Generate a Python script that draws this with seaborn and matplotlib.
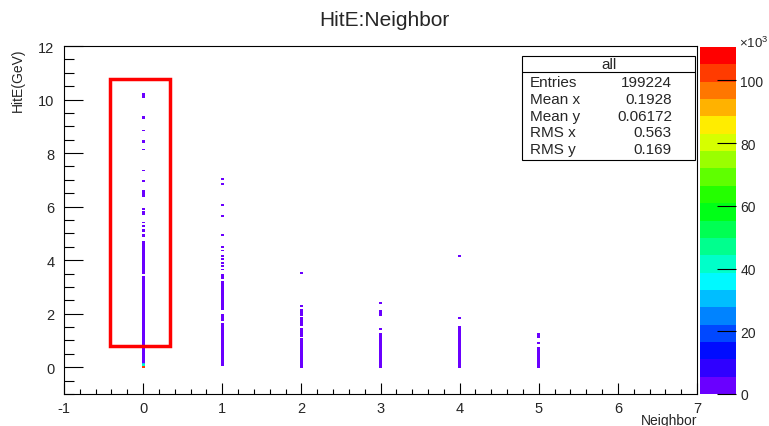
import colorsys

import numpy as np
import pandas as pd
import matplotlib
matplotlib.use("Agg")
import matplotlib.pyplot as plt
from matplotlib.colors import ListedColormap
from matplotlib.patches import Rectangle
from matplotlib.lines import Line2D
from matplotlib.ticker import MultipleLocator, FixedLocator, NullLocator
import seaborn as sns

# Occupied HitE ranges (GeV) for each Neighbor value, with entries per bin
seg_neighbor = (
    [0] * 17 + [1] * 18 + [2] * 7 + [3] * 4 + [4] * 4 + [5] * 3
)
seg_lo = [
    # Neighbor 0
    10.08, 9.30, 8.86, 8.40, 8.14, 7.36, 6.97, 6.39, 5.94, 5.72, 5.37, 5.25,
    5.08, 4.89, 4.10, 3.50, 0.20,
    # Neighbor 1
    7.03, 6.85, 6.03, 5.63, 4.96, 4.46, 4.36, 4.14, 4.01, 3.91, 3.76, 3.66,
    3.34, 3.02, 2.50, 2.12, 1.79, 0.05,
    # Neighbor 2
    3.49, 2.27, 2.17, 1.98, 1.54, 1.15, 0.00,
    # Neighbor 3
    2.39, 1.99, 1.42, 0.00,
    # Neighbor 4
    4.15, 1.81, 1.33, 0.00,
    # Neighbor 5
    1.08, 0.91, 0.00,
]
seg_hi = [
    10.18, 9.38, 8.86, 8.48, 8.14, 7.36, 6.97, 6.57, 5.94, 5.78, 5.37, 5.25,
    5.12, 4.93, 4.72, 4.01, 3.39,
    7.03, 6.85, 6.03, 5.63, 4.96, 4.46, 4.36, 4.14, 4.01, 3.91, 3.76, 3.66,
    3.47, 3.21, 2.92, 2.39, 1.97, 1.60,
    3.49, 2.27, 2.17, 2.06, 1.84, 1.45, 1.05,
    2.39, 2.09, 1.42, 1.27,
    4.15, 1.81, 1.53, 1.21,
    1.26, 0.91, 0.74,
]
seg_count = [
    2, 2, 1, 2, 1, 1, 1, 3, 1, 2, 1, 1, 2, 2, 5, 8, 400,
    1, 1, 1, 1, 1, 1, 1, 1, 1, 1, 1, 1, 2, 3, 5, 8, 10, 700,
    1, 1, 1, 2, 4, 8, 600,
    1, 1, 1, 350,
    1, 1, 2, 220,
    1, 1, 90,
]

# Densely populated low-energy bins of Neighbor 0
core_neighbor = [0, 0, 0]
core_hite = [0.00, 0.07, 0.13]
core_count = [105000, 40000, 30000]

# Stat box contents
stat_names = ["Entries", "Mean x", "Mean y", "RMS x", "RMS y"]
stat_values = ["199224", "0.1928", "0.06172", "0.563", "0.169"]

x_ticks = [-1, 0, 1, 2, 3, 4, 5, 6, 7]
y_ticks = [0, 2, 4, 6, 8, 10, 12]
z_ticks = [0, 20000, 40000, 60000, 80000, 100000]
z_max = 110600

# Histogram binning
x_edges = np.arange(-1.02, 7.0, 0.04)
y_edges = np.linspace(-1.0, 12.0, 201)
y_centres = 0.5 * (y_edges[:-1] + y_edges[1:])

xs, ys, ws = [], [], []
for n, lo, hi, c in zip(seg_neighbor, seg_lo, seg_hi, seg_count):
    sel = y_centres[(y_edges[1:] > lo) & (y_edges[:-1] <= hi)]
    xs += [n] * len(sel)
    ys += list(sel)
    ws += [c] * len(sel)
for n, h, c in zip(core_neighbor, core_hite, core_count):
    xs.append(n)
    ys.append(h)
    ws.append(c)
df = pd.DataFrame({"Neighbor": xs, "HitE": ys, "w": ws})

# 20-level rainbow palette, violet to red
palette = [colorsys.hls_to_rgb((265.0 * (1 - k / 19.0)) / 360.0, 0.5, 1.0) for k in range(20)]
cmap = ListedColormap(palette)

sns.set_style("white")
plt.rcParams["font.family"] = ["Liberation Sans", "DejaVu Sans"]
plt.rcParams["mathtext.fontset"] = "custom"
plt.rcParams["mathtext.rm"] = "Liberation Sans"
plt.rcParams["axes.unicode_minus"] = False

W, H = 769, 427
fig = plt.figure(figsize=(W / 100, H / 100), dpi=100)


def fx(px):
    return px / W


def fy(py):
    return 1 - py / H


ax = fig.add_axes([fx(64), fy(395), fx(697) - fx(64), fy(47) - fy(395)])
cax = fig.add_axes([fx(700), fy(395), fx(736) - fx(700), fy(48) - fy(395)])

sns.histplot(
    data=df, x="Neighbor", y="HitE", weights="w",
    bins=(x_edges, y_edges), cmap=cmap, vmin=0, vmax=z_max,
    cbar=True, cbar_ax=cax, ax=ax,
)

ax.set_axisbelow(False)
ax.set_xlim(-1, 7)
ax.set_ylim(-1, 12)
ax.set_xlabel("")
ax.set_ylabel("")
ax.xaxis.set_major_locator(FixedLocator(x_ticks))
ax.yaxis.set_major_locator(FixedLocator(y_ticks))
ax.xaxis.set_minor_locator(MultipleLocator(0.2))
ax.yaxis.set_minor_locator(MultipleLocator(0.5))
ax.set_xticklabels([str(t) for t in x_ticks])
ax.set_yticklabels([str(t) for t in y_ticks])
ax.tick_params(which="both", direction="in", color="black", width=0.8,
               bottom=True, left=True, top=False, right=False, labelsize=10.5)
ax.tick_params(axis="x", which="major", length=7.7, pad=5)
ax.tick_params(axis="x", which="minor", length=3.9)
ax.tick_params(axis="y", which="major", length=14, pad=7)
ax.tick_params(axis="y", which="minor", length=7)
for sp in ax.spines.values():
    sp.set_visible(True)
    sp.set_color("black")
    sp.set_linewidth(0.8)

# Highlight around the Neighbor = 0 column
ax.add_patch(Rectangle((-0.42, 0.79), 0.76, 9.98, fill=False,
                       edgecolor="#ff0000", linewidth=2.5, zorder=5))

# Colour scale
cax.set_axisbelow(False)
cax.set_ylim(0, z_max)
cax.set_yticks(z_ticks)
cax.yaxis.set_minor_locator(NullLocator())
cax.set_yticklabels([str(t // 1000) for t in z_ticks])
cax.tick_params(axis="y", which="major", direction="in", length=14, width=0.8,
                color="black", labelsize=10, pad=3, right=True, left=False)
for sp in cax.spines.values():
    sp.set_visible(False)
fig.text(fx(768), fy(43), r"$\times10^{3}$", fontsize=9.5, ha="right", va="center")

# Titles
fig.text(0.5, fy(20), "HitE:Neighbor", fontsize=15, ha="center", va="center")
fig.text(fx(697), fy(421), "Neighbor", fontsize=10, ha="right", va="center")
fig.text(fx(18), fy(48), "HitE(GeV)", fontsize=10, rotation=90,
         ha="center", va="top")

# Statistics box
bx0, bx1, by0, by1 = 522, 695, 57, 161
fig.patches.append(Rectangle((fx(bx0), fy(by1)), fx(bx1) - fx(bx0), fy(by0) - fy(by1),
                             transform=fig.transFigure, facecolor="white",
                             edgecolor="black", linewidth=0.8, zorder=6))
fig.lines.append(Line2D([fx(bx0), fx(bx1)], [fy(73), fy(73)],
                        transform=fig.transFigure, color="black", linewidth=0.8, zorder=7))
fig.text(fx((bx0 + bx1) / 2), fy(65), "all", fontsize=11, ha="center", va="center", zorder=8)
for i, (name, val) in enumerate(zip(stat_names, stat_values)):
    yy = fy(83 + i * 16.8)
    fig.text(fx(530), yy, name, fontsize=11, ha="left", va="center", zorder=8)
    fig.text(fx(672), yy, val, fontsize=11, ha="right", va="center", zorder=8)

fig.savefig("out.png", dpi=100, facecolor="white")
